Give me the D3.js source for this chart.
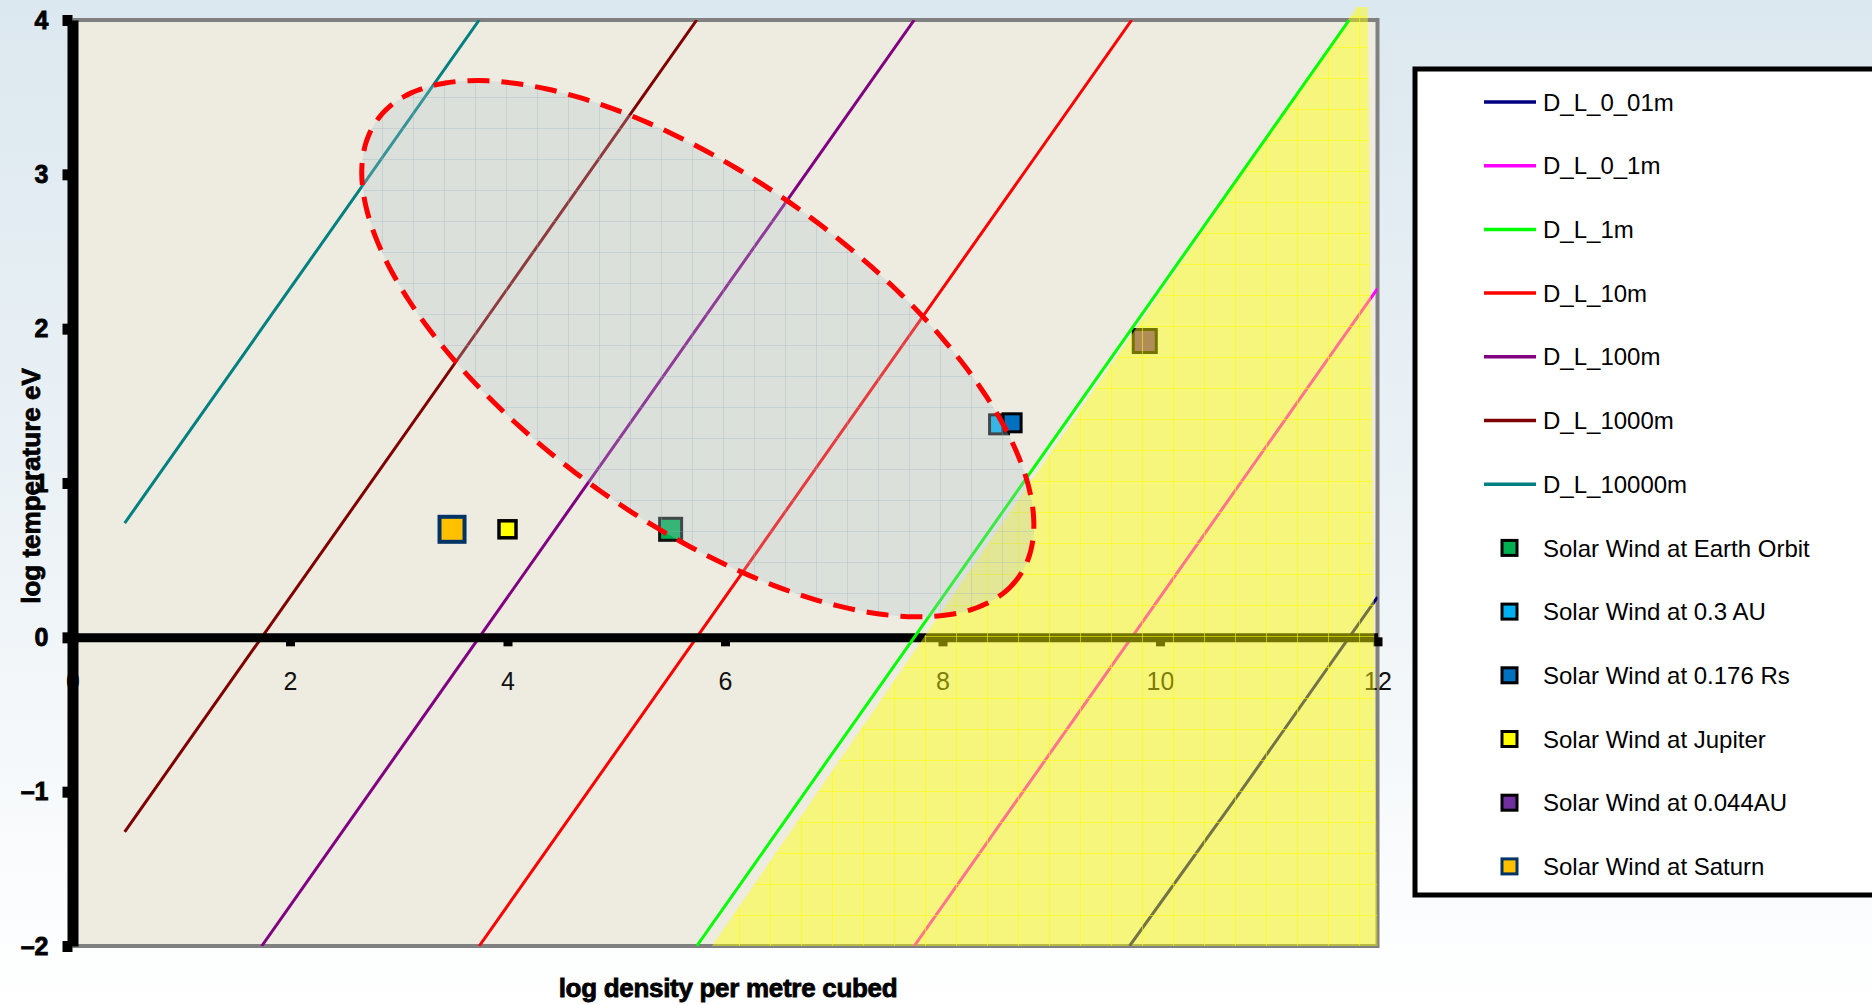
<!DOCTYPE html>
<html>
<head>
<meta charset="utf-8">
<script src="https://cdn.jsdelivr.net/npm/d3@7"></script>
<style>
  html, body { margin: 0; padding: 0; background: #fff; overflow: hidden; }
  svg { display: block; }
</style>
</head>
<body>
<svg id="chart" width="1872" height="1005"></svg>
<script>
// Debye length contours: log temperature (eV) against log density (m^-3)
const lineNames = ["D_L_0_01m", "D_L_0_1m", "D_L_1m", "D_L_10m", "D_L_100m", "D_L_1000m", "D_L_10000m"];
const lineLogDensity = [
  [9.72, 10.74, 12.0],
  [7.74, 9.74, 12.0],
  [5.74, 7.74, 11.74],
  [3.74, 5.74, 9.74],
  [1.74, 3.74, 7.74],
  [0.48, 1.74, 5.74],
  [0.48, 1.74, 3.74]
];
const lineLogTemp = [
  [-2, -1, 0.26],
  [-2, 0, 2.26],
  [-2, 0, 4],
  [-2, 0, 4],
  [-2, 0, 4],
  [-1.26, 0, 4],
  [0.74, 2, 4]
];

// Solar wind conditions
const pointNames = ["Solar Wind at Earth Orbit", "Solar Wind at 0.3 AU", "Solar Wind at 0.176 Rs",
                    "Solar Wind at Jupiter", "Solar Wind at 0.044AU", "Solar Wind at Saturn"];
const pointLogDensity = [5.50, 8.52, 8.64, 4.00, 9.86, 3.49];
const pointLogTemp = [0.70, 1.38, 1.39, 0.70, 1.92, 0.70];

// Axis ticks
const xTicks = [0, 2, 4, 6, 8, 10, 12];
const yTicks = [-2, -1, 0, 1, 2, 3, 4];

// Shaded (yellow) region corners
const regionLogDensity = [5.88, 11.81, 11.91, 12.0];
const regionLogTemp = [-2, 4.085, 4.085, -2];

// Dashed ellipse: centre and two conjugate semi-axes (data units)
const ellipseCentre = [5.75, 1.87];
const ellipseAxisA = [2.95, -1.48];
const ellipseAxisB = [-0.92, -0.91];

// ---- styles ----
const lineColors = ["#000080", "#ff00ff", "#00ff00", "#ff0000", "#800080", "#800000", "#008080"];
const pointFill = ["#00b050", "#00b0f0", "#0070c0", "#ffff00", "#7030a0", "#ffc000"];
const pointStroke = ["#111", "#111", "#000", "#000", "#000", "#003366"];
const pointSide = [22, 19, 18, 17, 23, 25];
const pointStrokeW = [3, 3, 3, 3.5, 3, 4];

const W = 1872, H = 1005;
const plot = { left: 72.5, right: 1377.5, top: 20, bottom: 946 };
const FONT = "'Liberation Sans', Arial, Helvetica, sans-serif";

const svg = d3.select("#chart");
const defs = svg.append("defs");

// page background
const bg = defs.append("linearGradient").attr("id", "pageBg")
  .attr("x1", 0).attr("y1", 0).attr("x2", 0).attr("y2", 1);
bg.append("stop").attr("offset", 0).attr("stop-color", "#dce8ef");
bg.append("stop").attr("offset", 0.55).attr("stop-color", "#edf3f7");
bg.append("stop").attr("offset", 1).attr("stop-color", "#ffffff");
svg.append("rect").attr("width", W).attr("height", H).attr("fill", "url(#pageBg)");

// textured fills
const yel = defs.append("pattern").attr("id", "yelFill")
  .attr("patternUnits", "userSpaceOnUse").attr("x", 26).attr("y", 16)
  .attr("width", 31).attr("height", 31);
yel.append("rect").attr("width", 31).attr("height", 31).attr("fill", "rgba(255,255,0,0.45)");
yel.append("path").attr("d", "M0.5,0V31M0,0.5H31").attr("stroke", "rgba(255,255,0,0.55)").attr("stroke-width", 1);

const ell = defs.append("pattern").attr("id", "ellFill")
  .attr("patternUnits", "userSpaceOnUse").attr("x", 10).attr("y", 4)
  .attr("width", 31).attr("height", 31);
ell.append("rect").attr("width", 31).attr("height", 31).attr("fill", "rgba(178,196,206,0.30)");
ell.append("path").attr("d", "M0.5,0V31M0,0.5H31").attr("stroke", "rgba(150,175,190,0.30)").attr("stroke-width", 1);

defs.append("clipPath").attr("id", "plotClip")
  .append("rect").attr("x", plot.left).attr("y", plot.top)
  .attr("width", plot.right - plot.left).attr("height", plot.bottom - plot.top);

const x = d3.scaleLinear().domain([0, 12]).range([plot.left, plot.right]);
const y = d3.scaleLinear().domain([-2, 4]).range([plot.bottom, plot.top]);

// plot area
svg.append("rect")
  .attr("x", plot.left).attr("y", plot.top)
  .attr("width", plot.right - plot.left).attr("height", plot.bottom - plot.top)
  .attr("fill", "#eeece1");

// border (top, right, bottom)
svg.append("path")
  .attr("d", `M${plot.left},${plot.top}H${plot.right}V${plot.bottom}H${plot.left}`)
  .attr("fill", "none").attr("stroke", "#808080").attr("stroke-width", 4);

const lineGen = d3.line().x(d => x(d[0])).y(d => y(d[1]));
const seriesPts = i => lineLogDensity[i].map((v, k) => [v, lineLogTemp[i][k]]);

const linesG = svg.append("g").attr("clip-path", "url(#plotClip)");
function drawLine(g, i) {
  g.append("path")
    .attr("d", lineGen(seriesPts(i)))
    .attr("fill", "none")
    .attr("stroke", lineColors[i])
    .attr("stroke-width", 3);
}
lineNames.forEach((n, i) => { if (i !== 2) drawLine(linesG, i); });

// x axis through log T = 0
const xAxisG = svg.append("g").attr("transform", `translate(0,${y(0)})`)
  .call(d3.axisBottom(x).tickValues(xTicks).tickSizeInner(9).tickSizeOuter(0).tickPadding(26));
xAxisG.select(".domain").attr("stroke", "#000").attr("stroke-width", 9);
xAxisG.selectAll(".tick line").attr("stroke", "#000").attr("stroke-width", 9);
xAxisG.selectAll(".tick text")
  .attr("font-family", FONT).attr("font-size", 25).attr("fill", "#111");

// solar wind markers
svg.append("g").selectAll("rect")
  .data(pointNames)
  .join("rect")
  .attr("x", (d, i) => x(pointLogDensity[i]) - pointSide[i] / 2)
  .attr("y", (d, i) => y(pointLogTemp[i]) - pointSide[i] / 2)
  .attr("width", (d, i) => pointSide[i])
  .attr("height", (d, i) => pointSide[i])
  .attr("fill", (d, i) => pointFill[i])
  .attr("stroke", (d, i) => pointStroke[i])
  .attr("stroke-width", (d, i) => pointStrokeW[i]);

// shaded region
const regionPts = regionLogDensity.map((v, k) => [v, regionLogTemp[k]]);
svg.append("path")
  .attr("d", lineGen(regionPts) + "Z")
  .attr("fill", "url(#yelFill)");

// 1 m contour above the shading
drawLine(svg.append("g").attr("clip-path", "url(#plotClip)"), 2);

// dashed ellipse
const angles = d3.range(0, 361, 2).map(a => a * Math.PI / 180);
const ellPts = angles.map(t => [
  ellipseCentre[0] + ellipseAxisA[0] * Math.cos(t) + ellipseAxisB[0] * Math.sin(t),
  ellipseCentre[1] + ellipseAxisA[1] * Math.cos(t) + ellipseAxisB[1] * Math.sin(t)
]);
svg.append("path")
  .attr("d", d3.line().x(d => x(d[0])).y(d => y(d[1])).curve(d3.curveCardinalClosed)(ellPts.slice(0, -1)))
  .attr("fill", "url(#ellFill)")
  .attr("stroke", "#ff0000")
  .attr("stroke-width", 5)
  .attr("stroke-dasharray", "22 12");

// y axis
const yAxisG = svg.append("g").attr("transform", `translate(${plot.left},0)`)
  .call(d3.axisLeft(y).tickValues(yTicks).tickSizeInner(10).tickSizeOuter(0).tickPadding(14)
    .tickFormat(d => d < 0 ? "\u2013" + Math.abs(d) : String(d)));
yAxisG.select(".domain").attr("stroke", "#000").attr("stroke-width", 11);
yAxisG.selectAll(".tick line").attr("stroke", "#000").attr("stroke-width", 11);
yAxisG.selectAll(".tick text")
  .attr("font-family", FONT).attr("font-size", 25).attr("font-weight", "bold")
  .attr("fill", "#000").attr("stroke", "#000").attr("stroke-width", 0.8);

// axis titles
svg.append("text")
  .attr("transform", "translate(40,486) rotate(-90)")
  .attr("text-anchor", "middle")
  .attr("font-family", FONT).attr("font-size", 26).attr("font-weight", "bold")
  .attr("fill", "#000").attr("stroke", "#000").attr("stroke-width", 0.8)
  .text("log temperature eV");
svg.append("text")
  .attr("x", 728).attr("y", 997)
  .attr("text-anchor", "middle")
  .attr("font-family", FONT).attr("font-size", 26).attr("font-weight", "bold")
  .attr("fill", "#000").attr("stroke", "#000").attr("stroke-width", 0.8)
  .attr("letter-spacing", -0.3)
  .text("log density per metre  cubed");

// legend
const legend = svg.append("g");
legend.append("rect")
  .attr("x", 1415).attr("y", 69).attr("width", 500).attr("height", 826)
  .attr("fill", "#fff").attr("stroke", "#000").attr("stroke-width", 5);
const legendY = i => 102 + i * 63.7;
lineNames.forEach((n, i) => {
  legend.append("line")
    .attr("x1", 1484).attr("x2", 1536).attr("y1", legendY(i)).attr("y2", legendY(i))
    .attr("stroke", lineColors[i]).attr("stroke-width", 3.5);
  legend.append("text")
    .attr("x", 1543).attr("y", legendY(i)).attr("dy", "0.36em")
    .attr("font-family", FONT).attr("font-size", 24).attr("fill", "#000")
    .text(n);
});
pointNames.forEach((n, j) => {
  const i = j + lineNames.length;
  legend.append("rect")
    .attr("x", 1502).attr("y", legendY(i) - 7.5).attr("width", 15).attr("height", 15)
    .attr("fill", pointFill[j]).attr("stroke", j === 5 ? "#003366" : "#000").attr("stroke-width", 3);
  legend.append("text")
    .attr("x", 1543).attr("y", legendY(i)).attr("dy", "0.36em")
    .attr("font-family", FONT).attr("font-size", 24).attr("fill", "#000")
    .text(n);
});
</script>
</body>
</html>
